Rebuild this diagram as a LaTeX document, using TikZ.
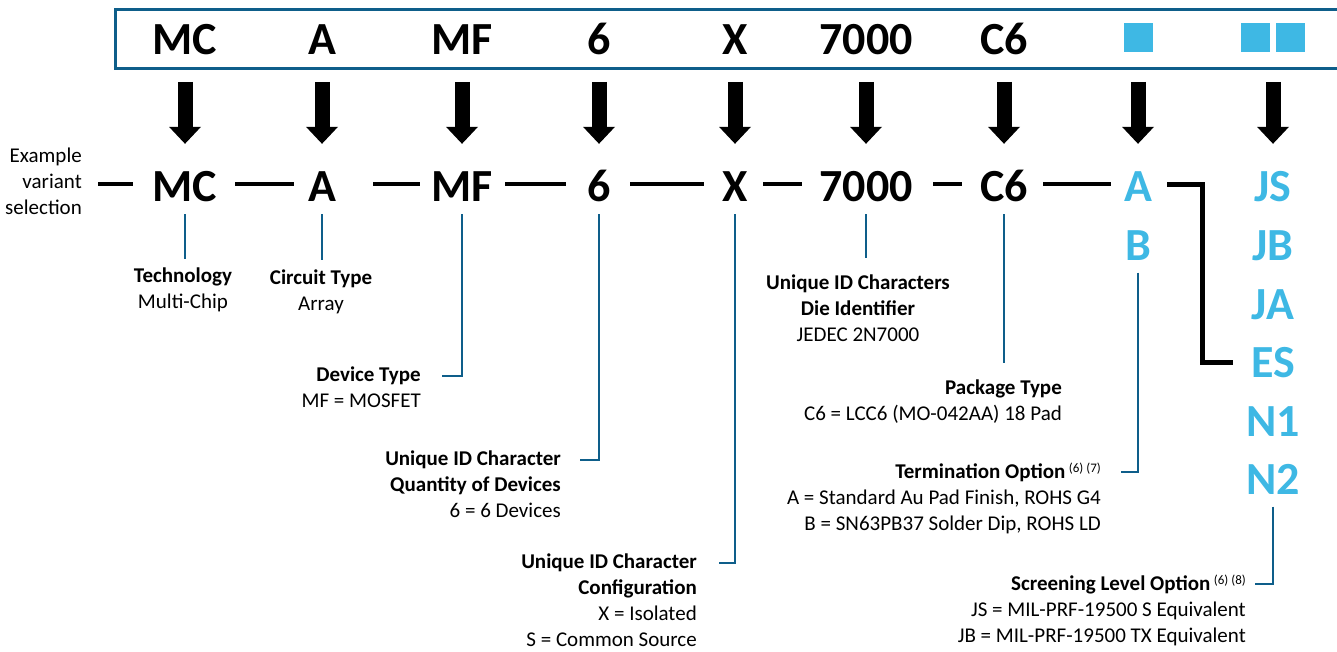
\documentclass[tikz,border=0pt]{standalone}
\usepackage{fontspec}
\setmainfont{Carlito}
\usetikzlibrary{arrows.meta}
\definecolor{lineblue}{RGB}{14,94,138}
\definecolor{optblue}{RGB}{62,184,228}
\tikzset{
  code/.style={font=\fontsize{46}{50}\selectfont\bfseries, anchor=base, inner xsep=0pt, inner ysep=12pt, text height=30pt, text depth=0pt},
  opt/.style={code, text=optblue},
  sq/.style={fill=optblue, minimum size=29pt, inner sep=0pt},
  lbl/.style={font=\fontsize{21}{26}\selectfont, inner sep=0pt},
  tick/.style={draw=lineblue, line width=2pt},
  sep/.style={line width=4pt},
  bigarrow/.style={line width=15pt, -{Triangle[width=32pt,length=17pt,line width=0pt]}},
}
\newcommand{\fnref}[1]{\,\raisebox{6pt}{\fontsize{13}{13}\selectfont #1}}

\begin{document}
\begin{tikzpicture}[x=1pt,y=-1pt]
  \useasboundingbox (0,0) rectangle (1337,652);
  \draw[lineblue, line width=3pt] (115,10) rectangle (1350,69);
  % part number
  \foreach \n/\x/\t in {mc/185/MC, a/322/A, mf/462/MF, six/599/6, x/735/X, id/866/7000, pkg/1004/C6}
    \node[code] (\n1) at (\x,55) {\t};
  \node[sq] (sqa) at (1138,37.5) {};
  \node[sq] (sqb1) at (1255.5,37.5) {};
  \node[sq] (sqb2) at (1290.5,37.5) {};
  % example selection
  \foreach \n/\x/\t in {mc/185/MC, a/322/A, mf/462/MF, six/599/6, x/735/X, id/866/7000, pkg/1004/C6}
    \node[code] (\n2) at (\x,202) {\t};
  \node[opt] (term2) at (1138,202) {A};
  \node[opt] (termb) at (1138,260.5) {B};
  \foreach \n/\t [count=\i from 0] in {js/JS, jb/JB, ja/JA, es/ES, n1/N1, n2/N2}
    \node[opt] (\n) at (1273,202+58.5*\i) {\t};
  \node[lbl, align=right, anchor=north east] (ex) at (82,148) {Example\\variant\\selection};
  \foreach \n in {mc2,a2,mf2,six2,x2,id2,pkg2,term2,js}
    \draw[bigarrow, shorten >=16pt] ([yshift=78pt]\n.north) -- (\n.north);
  \foreach \a/\b in {98/133, 235/294, 373/420, 505/566, 630/704, 763/802, 933/962, 1043/1111}
    \draw[sep] (\a,184) -- (\b,184);
  \draw[sep, line width=5pt] ([xshift=15pt,yshift=2pt]term2.east) -- ++(35,0) |- ([xshift=-18pt]es.west);
  % fields
  \node[lbl, align=center, anchor=north] (tech) at (183,268) {\textbf{Technology}\\Multi-Chip};
  \draw[tick, shorten >=9pt] (mc2.south) -- (mc2.south |- tech.north);
  \node[lbl, align=center, anchor=north] (circ) at (321,270) {\textbf{Circuit Type}\\Array};
  \draw[tick, shorten >=10pt] (a2.south) -- (a2.south |- circ.north);
  \coordinate (mfend) at (442,376);
  \draw[tick] (mf2.south) |- (mfend);
  \node[lbl, align=right, anchor=north east] (devtype) at ([xshift=-21pt,yshift=9pt]mfend) {\textbf{Device Type}\\MF = MOSFET};
  \coordinate (qtyend) at (580,460);
  \draw[tick] (six2.south) |- (qtyend);
  \node[lbl, align=right, anchor=north east] (qty) at ([xshift=-19pt,yshift=9pt]qtyend) {\textbf{Unique ID Character}\\\textbf{Quantity of Devices}\\6 = 6 Devices};
  \coordinate (confend) at (719,563);
  \draw[tick] (x2.south) |- (confend);
  \node[lbl, align=right, anchor=north east] (conf) at ([xshift=-22pt,yshift=9pt]confend) {\textbf{Unique ID Character}\\\textbf{Configuration}\\X = Isolated\\S = Common Source};
  \node[lbl, align=center, anchor=north] (die) at (858,275) {\textbf{Unique ID Characters}\\\textbf{Die Identifier}\\JEDEC 2N7000};
  \draw[tick, shorten >=17pt] (id2.south) -- (id2.south |- die.north);
  \draw[tick] (pkg2.south) -- ++(0,149) coordinate (pkgend);
  \node[lbl, align=right, anchor=north east] (pkgtype) at ([xshift=58pt,yshift=-16pt]pkgend) {\textbf{Package Type}\\C6 = LCC6 (MO-042AA) 18 Pad};
  \coordinate (termend) at (1121,472);
  \draw[tick] (termb.south) |- (termend);
  \node[lbl, align=right, anchor=north east] (termopt) at ([xshift=-20pt,yshift=9pt]termend) {\textbf{Termination Option}\fnref{(6) (7)}\\A = Standard Au Pad Finish, ROHS G4\\B = SN63PB37 Solder Dip, ROHS LD};
  \coordinate (scrend) at (1255,584);
  \draw[tick] (n2.south) |- (scrend);
  \node[lbl, align=right, anchor=north east] (scropt) at ([xshift=-9pt,yshift=9pt]scrend) {\textbf{Screening Level Option}\fnref{(6) (8)}\\JS = MIL-PRF-19500 S Equivalent\\JB = MIL-PRF-19500 TX Equivalent};
\end{tikzpicture}
\end{document}
